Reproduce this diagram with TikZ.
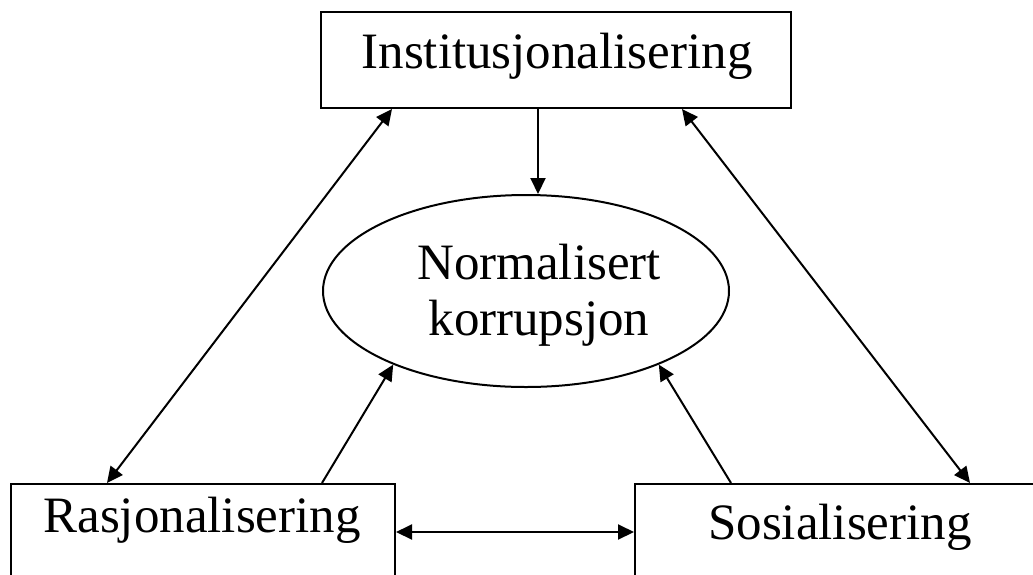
\documentclass[tikz,border=0pt]{standalone}
\usepackage{fontspec}
\setmainfont{Liberation Serif}
\usetikzlibrary{arrows.meta,shapes.geometric}
\begin{document}
\begin{tikzpicture}[x=1pt,y=-1pt,
  box/.style={draw,line width=2pt,rectangle,inner sep=0pt},
  lbl/.style={font=\fontsize{51}{56}\selectfont,inner sep=0pt,anchor=base},
  tip/.style={Triangle[length=16pt,width=15pt]},
  arr/.style={line width=2pt,-{Triangle[length=16pt,width=15pt]}},
  darr/.style={line width=2pt,{Triangle[length=16pt,width=15pt]}-{Triangle[length=16pt,width=15pt]}}]
\useasboundingbox (0,0) rectangle (1033,574);
\node[box,minimum width=470pt,minimum height=96pt] (inst) at (556,60) {};
\node[lbl] (instT) at (557,68) {Institusjonalisering};
\node[box,minimum width=384pt,minimum height=140pt,anchor=north west] (ras) at (10,483) {};
\node[lbl] (rasT) at (202,532) {Rasjonalisering};
\node[box,minimum width=420pt,minimum height=140pt,anchor=north west] (sos) at (634,483) {};
\node[lbl] (sosT) at (840,539) {Sosialisering};
\node[draw,ellipse,line width=2pt,minimum width=406pt,minimum height=192pt,inner sep=0pt] (ell) at (526,291) {};
\node[font=\fontsize{51}{56}\selectfont,align=center,inner sep=0pt] (ellT) at (539,295) {Normalisert\\korrupsjon};
\coordinate (c1) at (538,0);
\coordinate (c2) at (0,532);
\draw[arr] (inst.south -| c1) -- (ell.north -| c1);
\draw[darr] ([xshift=72pt]inst.south west) -- ([xshift=97pt]ras.north west);
\draw[darr] ([xshift=362pt]inst.south west) -- ([xshift=336pt]sos.north west);
\draw[arr] ([xshift=312pt]ras.north west) -- (ell.209.5);
\draw[arr] ([xshift=97pt]sos.north west) -- (ell.331.1);
\draw[darr] (ras.east |- c2) -- (sos.west |- c2);
\end{tikzpicture}
\end{document}
